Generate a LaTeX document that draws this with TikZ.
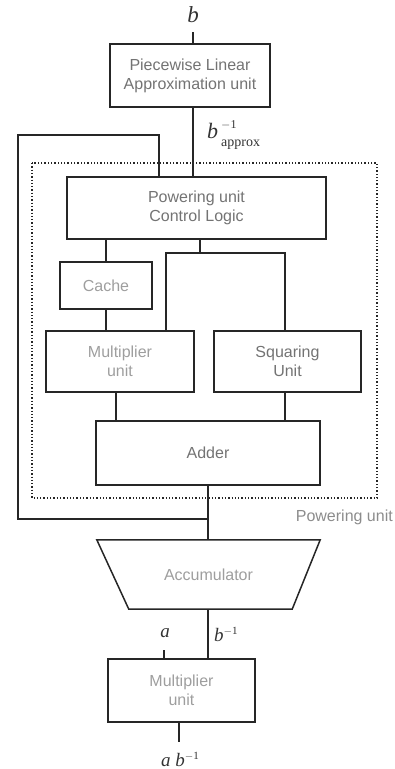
\documentclass[tikz,border=0pt]{standalone}
\usepackage{fontspec}
\setmainfont{Liberation Sans}
\newfontfamily\labelserif{Liberation Serif}
\usetikzlibrary{calc}
\begin{document}
\begin{tikzpicture}[x=1pt,y=-1pt,
  unitbox/.style={draw=black!85, line width=1.5pt, rectangle, inner sep=0pt, align=center,
    text=black!55, font=\fontsize{16}{19}\selectfont},
  faint/.style={text=black!38},
  wire/.style={draw=black!85, line width=1.2pt},
  mathlbl/.style={inner sep=0pt, text=black!80}]
\useasboundingbox (0,0) rectangle (395,769);

% powering unit frame
\draw[black!85, line width=1.3pt, dotted] (32,163) rectangle (377,498);
\node[anchor=east, inner sep=0pt, text=black!45, font=\fontsize{16}{19}\selectfont] (plbl) at (393,517) {Powering unit};

% blocks
\node[unitbox, minimum width=160pt, minimum height=63pt] (pla) at (190,75.5) {Piecewise Linear\\Approximation unit};
\node[unitbox, minimum width=259pt, minimum height=62pt] (pcl) at (196.5,208) {Powering unit\\Control Logic};
\node[unitbox, faint, minimum width=92pt, minimum height=47pt] (cache) at (106,285.5) {Cache};
\node[unitbox, faint, minimum width=148pt, minimum height=61pt] (mul) at (120,361.5) {Multiplier\\unit};
\node[unitbox, minimum width=147pt, minimum height=61pt] (sq) at (287.5,361.5) {Squaring\\Unit};
\node[unitbox, minimum width=224pt, minimum height=64pt] (add) at (208,453) {Adder};
\node[rectangle, minimum width=223pt, minimum height=69pt, inner sep=0pt,
  text=black!38, font=\fontsize{16}{19}\selectfont] (acc) at (208.5,574.5) {Accumulator};
\draw[black!85, line width=1.5pt, line join=miter]
  (acc.north west) -- (acc.north east) -- ($(acc.south east)+(-28,0)$)
  -- ($(acc.south west)+(32,0)$) -- cycle;
\node[unitbox, faint, minimum width=147pt, minimum height=63pt] (mul2) at (181.5,690.5) {Multiplier\\unit};

% input b and approximation
\node[mathlbl, font=\fontsize{23}{26}\selectfont\labelserif\itshape] (bin) at (193,15) {b};
\draw[wire] (193,32) -- (pla.north -| 193,0);
\draw[wire] (pla.south -| 193,0) -- (pcl.north -| 193,0);
\node[mathlbl, anchor=base west, font=\fontsize{22}{26}\selectfont\labelserif] (bapx) at (207,138)
  {\itshape b\upshape\kern3pt\rlap{\raisebox{10pt}{\fontsize{12}{12}\selectfont $-$1}}%
   \raisebox{-8pt}{\fontsize{14}{14}\selectfont approx}};

% control logic to datapath
\draw[wire] (pcl.south -| cache.north) -- (cache.north);
\draw[wire] (cache.south) -- (cache.south |- mul.north);
\coordinate (split) at (200,253);
\draw[wire] (pcl.south -| split) -- (split);
\draw[wire] (mul.north -| 166,0) |- (split) -| (sq.north -| 285,0);
\draw[wire] (mul.south -| 116,0) -- (add.north -| 116,0);
\draw[wire] (sq.south -| 285,0) -- (add.north -| 285,0);

% adder to accumulator, with feedback
\coordinate (fb) at (208,519);
\draw[wire] (add.south) -- (acc.north -| add.south);
\draw[wire] (fb) -| (18,135) -| (pcl.north -| 159,0);

% accumulator to final multiplier
\draw[wire] (acc.south -| 208,0) -- (mul2.north -| 208,0);
\node[mathlbl, font=\fontsize{19}{22}\selectfont\labelserif\itshape] (ain) at (165,633) {a};
\draw[wire] (164,650) -- (mul2.north -| 164,0);
\node[mathlbl, anchor=west, font=\fontsize{19}{22}\selectfont\labelserif] (binv) at (214,634)
  {\itshape b\raisebox{7pt}{\fontsize{11}{11}\selectfont\upshape $-$1}};
\draw[wire] (mul2.south -| 179,0) -- (179,742);
\node[mathlbl, font=\fontsize{19}{22}\selectfont\labelserif] (out) at (180,759)
  {\itshape a b\raisebox{7pt}{\fontsize{11}{11}\selectfont\upshape $-$1}};
\end{tikzpicture}
\end{document}
